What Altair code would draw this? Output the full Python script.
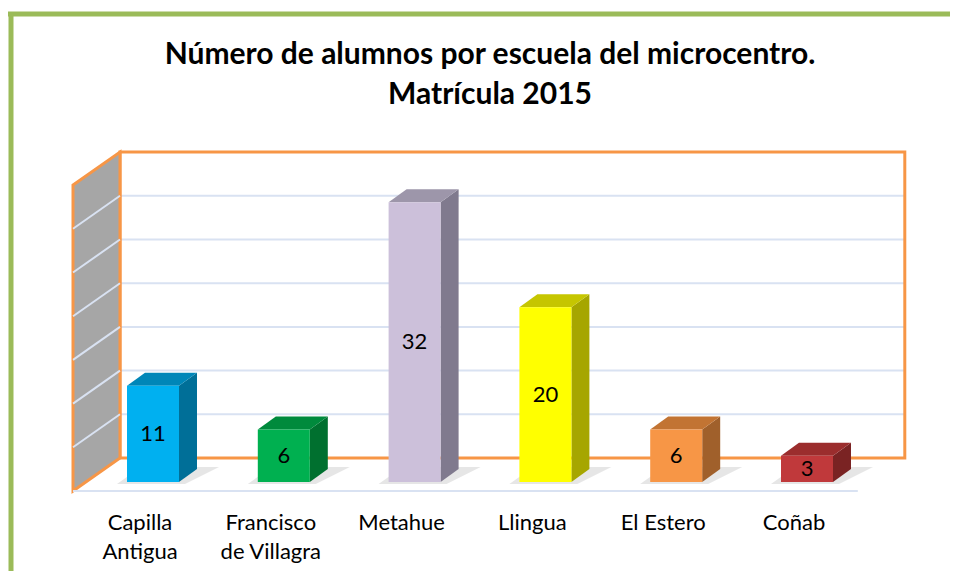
import altair as alt
import pandas as pd

# ---------------- data ----------------
categories = ["Capilla Antigua", "Francisco de Villagra", "Metahue", "Llingua", "El Estero", "Coñab"]
label_text = ["Capilla\nAntigua", "Francisco\nde Villagra", "Metahue", "Llingua", "El Estero", "Coñab"]
values = [11, 6, 32, 20, 6, 3]
front_colors = ["#00b0f0", "#00b050", "#ccc0da", "#ffff00", "#f79646", "#c0393b"]
side_colors = ["#006f98", "#00702f", "#807a8e", "#a6a600", "#a0602b", "#7a2323"]
top_colors = ["#0086b8", "#008a3c", "#9d96aa", "#c6c600", "#c27433", "#9b2d2d"]
axis_max = 35
grid_step = 5
title_text = "Número de alumnos por escuela del microcentro.\nMatrícula 2015"

# ---------------- layout (pixels) ----------------
W, H, PAD_T = 942, 433, 130
PX_X, PX_Y = 130.8, 8.74          # px per category, px per unit value
BAR0_PX, BASE_PX = 145, 344        # first bar centre / baseline inside plot area
xmin = -BAR0_PX / PX_X
xmax = xmin + W / PX_X
ymax = BASE_PX / PX_Y
ymin = ymax - H / PX_Y


def ox(px):
    return px / PX_X


def oy(px):
    return px / PX_Y


BAR_HALF = ox(26)
BDX, BDY = ox(18), oy(13)          # bar depth
WDX, WDY = ox(32.4), oy(24)        # back wall offset from bar front plane
FDX, FDY = ox(-14.6), oy(-9)       # floor front offset from bar front plane

XS = alt.Scale(domain=[xmin, xmax], nice=False, zero=False)
YS = alt.Scale(domain=[ymin, ymax], nice=False, zero=False)


def X(f):
    return alt.X(f, type="quantitative", scale=XS, axis=None)


def Y(f):
    return alt.Y(f, type="quantitative", scale=YS, axis=None)


n = len(categories)
ORANGE = "#f79646"
GRID = "#d9e2f2"

# back wall
wall = pd.DataFrame([{"x": -0.5 + WDX, "x2": n - 0.5 + WDX, "y": WDY, "y2": axis_max + WDY}])
grid_vals = list(range(grid_step, axis_max, grid_step))
back_grid_df = pd.DataFrame([{"x": -0.5 + WDX, "x2": n - 0.5 + WDX, "y": g + WDY} for g in grid_vals])
left_grid_df = pd.DataFrame([{"x": -0.5 + FDX, "x2": -0.5 + WDX, "y": g + FDY, "y2": g + WDY} for g in grid_vals])
left_wall_df = pd.DataFrame([
    {"x": -0.5 + FDX, "y": FDY, "y2": axis_max + FDY},
    {"x": -0.5 + WDX, "y": WDY, "y2": axis_max + WDY},
])
floor_df = pd.DataFrame([{"x": -0.5 + FDX, "x2": n - 0.5 + FDX, "y": FDY}])

back_fill = alt.Chart(wall).mark_rect(fill="white").encode(x=X("x"), x2="x2", y=Y("y"), y2="y2")
back_grid = alt.Chart(back_grid_df).mark_rule(color=GRID, strokeWidth=2).encode(x=X("x"), x2="x2", y=Y("y"))
back_border = alt.Chart(wall).mark_rect(fillOpacity=0, stroke=ORANGE, strokeWidth=3).encode(
    x=X("x"), x2="x2", y=Y("y"), y2="y2")
left_wall = alt.Chart(left_wall_df).mark_area(fill="#a6a6a6", stroke=ORANGE, strokeWidth=3).encode(
    x=X("x"), y=Y("y"), y2="y2")
left_grid = alt.Chart(left_grid_df).mark_rule(color=GRID, strokeWidth=2).encode(
    x=X("x"), x2="x2", y=Y("y"), y2="y2")
floor_edge = alt.Chart(floor_df).mark_rule(color=GRID, strokeWidth=2).encode(x=X("x"), x2="x2", y=Y("y"))

# bars
front_rows, side_rows, top_rows, shadow_rows = [], [], [], []
for i, (c, v) in enumerate(zip(categories, values)):
    xl, xr = i - BAR_HALF, i + BAR_HALF
    front_rows.append({"cat": c, "x": xl, "x2": xr, "y": 0, "y2": v, "col": front_colors[i],
                       "mid": v / 2, "xc": i, "val": str(v)})
    side_rows += [
        {"cat": c, "x": xr, "y": 0, "y2": v, "col": side_colors[i]},
        {"cat": c, "x": xr + BDX, "y": BDY, "y2": v + BDY, "col": side_colors[i]},
    ]
    top_rows += [
        {"cat": c, "y": v, "x": xl, "x2": xr, "col": top_colors[i]},
        {"cat": c, "y": v + BDY, "x": xl + BDX, "x2": xr + BDX, "col": top_colors[i]},
    ]
    shadow_rows += [
        {"cat": c, "y": oy(-2), "x": xl - ox(10), "x2": xr + ox(6)},
        {"cat": c, "y": BDY + oy(2), "x": xl + BDX - ox(4), "x2": xr + BDX + ox(22)},
    ]
front_df = pd.DataFrame(front_rows)
side_df = pd.DataFrame(side_rows)
top_df = pd.DataFrame(top_rows)
shadow_df = pd.DataFrame(shadow_rows)

shadow = alt.Chart(shadow_df).mark_area(orient="horizontal", color="#c8c8c8", opacity=0.45).encode(
    y=Y("y"), x=X("x"), x2="x2", detail="cat:N")
side = alt.Chart(side_df).mark_area(orient="vertical").encode(
    x=X("x"), y=Y("y"), y2="y2", detail="cat:N", color=alt.Color("col:N", scale=None))
top = alt.Chart(top_df).mark_area(orient="horizontal").encode(
    y=Y("y"), x=X("x"), x2="x2", detail="cat:N", color=alt.Color("col:N", scale=None))
front = alt.Chart(front_df).mark_rect().encode(
    x=X("x"), x2="x2", y=Y("y"), y2="y2", color=alt.Color("col:N", scale=None))
values_text = alt.Chart(front_df).mark_text(font="Lato", fontSize=22, color="black", baseline="middle").encode(
    x=X("xc"), y=Y("mid"), text="val:N")

lab_df = pd.DataFrame({"x": [i + ox(-13) for i in range(n)], "y": [oy(-31)] * n, "t": label_text})
cat_text = alt.Chart(lab_df).mark_text(font="Lato", fontSize=22, color="black", baseline="top",
                                       lineBreak="\n", lineHeight=29).encode(
    x=X("x"), y=Y("y"), text="t:N")

# title as text
title_df = pd.DataFrame({"t": [title_text]})
title = alt.Chart(title_df).mark_text(font="Lato", fontSize=30, fontWeight="bold", color="black",
                                      baseline="middle", lineBreak="\n", lineHeight=40).encode(
    x=alt.value(482), y=alt.value(-83), text="t:N")

# green frame
frame_top = alt.Chart(wall).mark_rule(color="#9bbb59", strokeWidth=5).encode(
    x=alt.value(0), x2=alt.value(W), y=alt.value(-124))
frame_left = alt.Chart(wall).mark_rule(color="#9bbb59", strokeWidth=5).encode(
    x=alt.value(3), y=alt.value(-126), y2=alt.value(H))

chart = alt.layer(
    back_fill, back_grid, back_border, left_wall, left_grid, floor_edge,
    shadow, side, top, front, values_text, cat_text, title, frame_top, frame_left,
).properties(
    width=W, height=H,
    autosize=alt.AutoSizeParams(type="none"),
    padding={"left": 0, "top": PAD_T, "right": 0, "bottom": 0},
).configure_view(stroke=None)

chart.save("out.html", embed_options={"renderer": "svg", "actions": False})
